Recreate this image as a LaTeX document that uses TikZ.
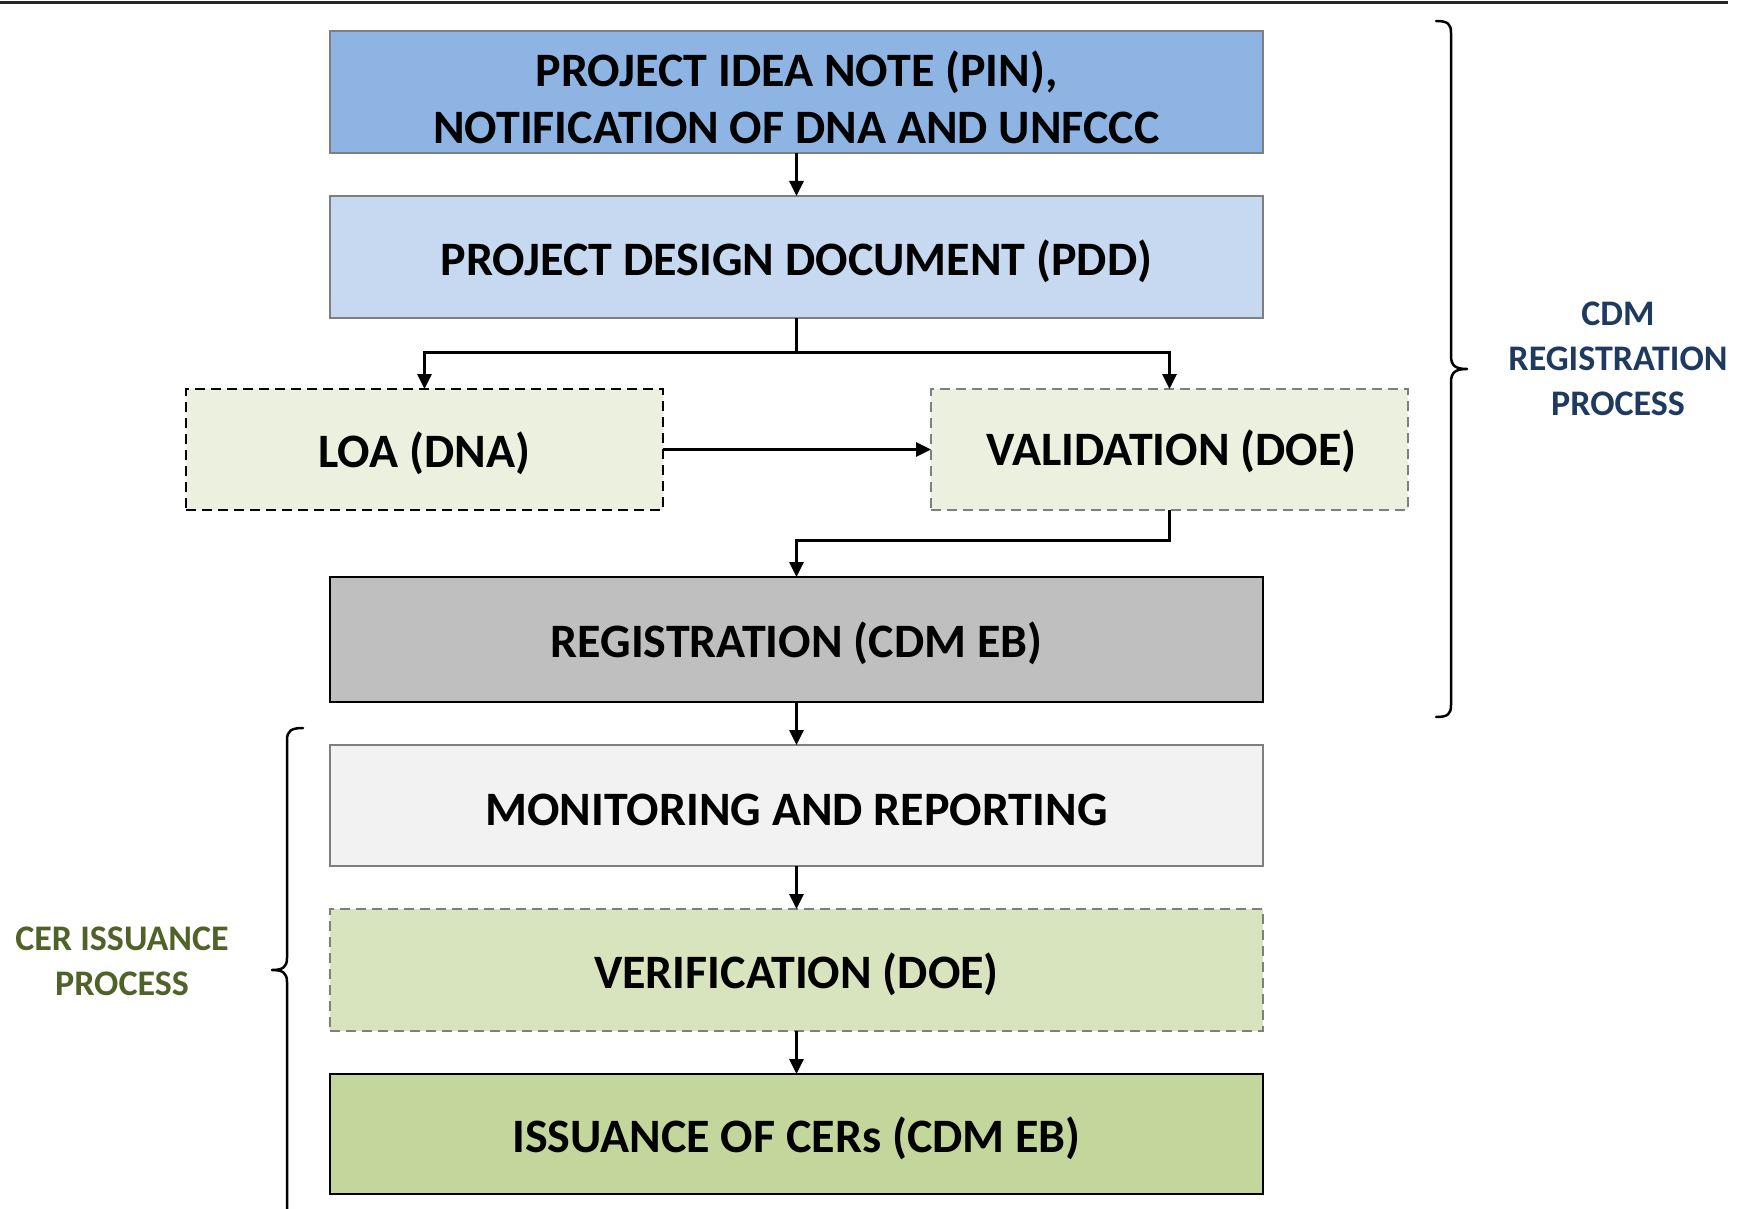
\documentclass[tikz,border=0pt]{standalone}
\usepackage{fontspec}
\setmainfont{Carlito}
\usetikzlibrary{arrows.meta}
\definecolor{pinfill}{HTML}{8EB4E3}
\definecolor{pddfill}{HTML}{C6D9F1}
\definecolor{loafill}{HTML}{EBF1DE}
\definecolor{regfill}{HTML}{BFBFBF}
\definecolor{monfill}{HTML}{F2F2F2}
\definecolor{verfill}{HTML}{D7E4BD}
\definecolor{issfill}{HTML}{C3D69B}
\definecolor{boxgray}{HTML}{7F7F7F}
\definecolor{navytext}{HTML}{1F3A60}
\definecolor{olivetext}{HTML}{4F6228}
\begin{document}
\begin{tikzpicture}[x=1pt,y=-1pt,
  box/.style={rectangle, inner sep=0pt, outer sep=0pt, line width=2.5pt},
  widebox/.style={box, minimum width=933pt},
  halfbox/.style={box, minimum width=477pt},
  boxtext/.style={inner sep=0pt, font=\fontsize{48}{57.6}\selectfont\bfseries, align=center, text=black},
  conn/.style={line width=3pt, -{Triangle[length=15pt,width=14pt]}},
  plainline/.style={line width=3pt},
  brace/.style={line width=2.5pt, line cap=round, line join=round},
  sidelabel/.style={font=\fontsize{36}{45}\selectfont\bfseries, align=center, inner sep=0pt}
]
\useasboundingbox (0,0) rectangle (1747,1209);

% top rule
\coordinate (ruleL) at (0,3);
\coordinate (ruleR) at (1728,3);
\draw[line width=3pt, black!85] (ruleL) -- (ruleR);

% boxes
\node[widebox, minimum height=122pt, fill=pinfill, draw=boxgray] (pin) at (796.5,92) {};
\node[widebox, minimum height=122pt, fill=pddfill, draw=boxgray] (pdd) at (796.5,257) {};
\node[halfbox, minimum height=121pt, fill=loafill, draw=black, dash pattern=on 10pt off 6pt] (loa) at (424.5,449.5) {};
\node[halfbox, minimum height=121pt, fill=loafill, draw=boxgray, dash pattern=on 10pt off 6pt] (val) at (1169.5,449.5) {};
\node[widebox, minimum height=125pt, fill=regfill, draw=black] (reg) at (796.5,639.5) {};
\node[widebox, minimum height=121pt, fill=monfill, draw=boxgray] (mon) at (796.5,805.5) {};
\node[widebox, minimum height=122pt, fill=verfill, draw=boxgray, dash pattern=on 10pt off 6pt] (ver) at (796.5,970) {};
\node[widebox, minimum height=120pt, fill=issfill, draw=black] (iss) at (796.5,1134) {};

% box texts
\node[boxtext] (pintext) at ([yshift=-5.5pt]pin.center) {PROJECT IDEA NOTE (PIN),\\NOTIFICATION OF DNA AND UNFCCC};
\node[boxtext] (pddtext) at ([yshift=-4pt]pdd.center) {PROJECT DESIGN DOCUMENT (PDD)};
\node[boxtext] (loatext) at ([yshift=-3.5pt]loa.center) {LOA (DNA)};
\node[boxtext] (valtext) at ([xshift=2pt,yshift=-2pt]val.center) {VALIDATION (DOE)};
\node[boxtext] (regtext) at ([yshift=-4pt]reg.center) {REGISTRATION (CDM EB)};
\node[boxtext] (montext) at ([yshift=-4pt]mon.center) {MONITORING AND REPORTING};
\node[boxtext] (vertext) at ([yshift=-4.5pt]ver.center) {VERIFICATION (DOE)};
\node[boxtext] (isstext) at ([yshift=-4pt]iss.center) {ISSUANCE OF CERs (CDM EB)};

% connectors
\coordinate (branch) at (796.5,352);
\coordinate (merge) at (1169.5,540);
\draw[conn] (pin.south) -- (pdd.north);
\draw[plainline] (pdd.south) -- (branch);
\draw[conn] (branch) -| (loa.north);
\draw[conn] (branch) -| (val.north);
\draw[conn] (loa.east) -- (val.west);
\draw[conn] (val.south) -- (merge) -| (reg.north);
\draw[conn] (reg.south) -- (mon.north);
\draw[conn] (mon.south) -- (ver.north);
\draw[conn] (ver.south) -- (iss.north);

% right brace
\coordinate (rbTop) at (1436,21);
\coordinate (rbTip) at (1467,369);
\coordinate (rbBot) at (1436,717);
\draw[brace] (rbTop) .. controls (1448,21) and (1451,24) .. (1451,33)
  -- (1451,356) .. controls (1451,366) and (1456,369) .. (rbTip)
  .. controls (1456,369) and (1451,372) .. (1451,382)
  -- (1451,705) .. controls (1451,714) and (1448,717) .. (rbBot);

% left brace
\coordinate (lbTop) at (303,728);
\coordinate (lbTip) at (272,970);
\coordinate (lbBot) at (287,1215);
\draw[brace] (lbTop) .. controls (291,728) and (287,731) .. (287,740)
  -- (287,958) .. controls (287,967) and (283,970) .. (lbTip)
  .. controls (283,970) and (287,973) .. (287,982)
  -- (lbBot);

% side labels
\node[sidelabel, text=navytext] (cdmlabel) at (1618,359) {CDM\\REGISTRATION\\PROCESS};
\node[sidelabel, text=olivetext] (cerlabel) at (122,961) {CER ISSUANCE\\PROCESS};
\end{tikzpicture}
\end{document}
